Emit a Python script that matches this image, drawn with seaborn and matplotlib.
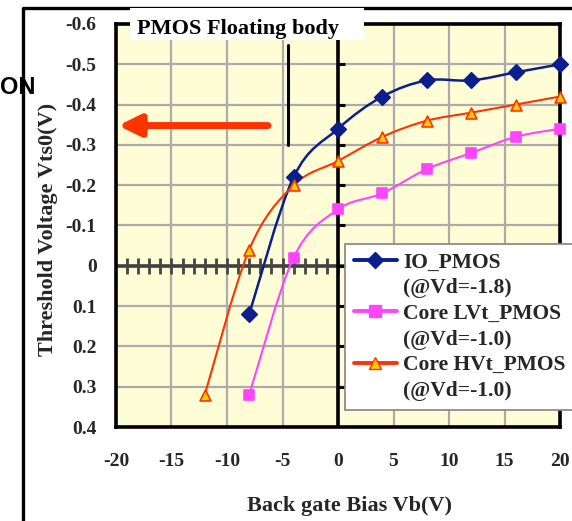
import numpy as np
import matplotlib
matplotlib.use("Agg")
import matplotlib.pyplot as plt
from matplotlib.path import Path
from matplotlib.patches import PathPatch, Rectangle
from matplotlib.lines import Line2D
import seaborn as sns

# Threshold voltage vs. back gate bias, three PMOS flavours
vb_io = [-8, -4, 0, 4, 8, 12, 16, 20]
vts_io = [0.12, -0.22, -0.34, -0.42, -0.46, -0.46, -0.48, -0.50]

vb_lvt = [-8, -4, 0, 4, 8, 12, 16, 20]
vts_lvt = [0.32, -0.02, -0.14, -0.18, -0.24, -0.28, -0.32, -0.34]

vb_hvt = [-12, -8, -4, 0, 4, 8, 12, 16, 20]
vts_hvt = [0.32, -0.04, -0.20, -0.26, -0.32, -0.36, -0.38, -0.40, -0.42]

series_names = ["IO_PMOS", "Core LVt_PMOS", "Core HVt_PMOS"]
series_notes = ["(@Vd=-1.8)", "(@Vd=-1.0)", "(@Vd=-1.0)"]

x_ticks = [-20, -15, -10, -5, 0, 5, 10, 15, 20]
x_ticklabels = ["-20", "-15", "-10", "-5", "0", "5", "10", "15", "20"]
y_ticks = [-0.6, -0.5, -0.4, -0.3, -0.2, -0.1, 0.0, 0.1, 0.2, 0.3, 0.4]
y_ticklabels = ["-0.6", "-0.5", "-0.4", "-0.3", "-0.2", "-0.1", "0",
                "0.1", "0.2", "0.3", "0.4"]

title_text = "PMOS Floating body"
x_label = "Back gate Bias Vb(V)"
y_label = "Threshold Voltage Vts0(V)"

sns.set_style("white")
plt.rcParams["font.family"] = ["Liberation Serif", "DejaVu Serif"]
plt.rcParams["font.weight"] = "bold"

W, H = 572, 521
fig = plt.figure(figsize=(W / 100, H / 100), dpi=100)
fig.patch.set_facecolor("white")
ax = fig.add_axes([116 / W, 94 / H, 444 / W, 403 / H])
ax.set_facecolor("#FFFDD6")

ax.set_xlim(-20, 20)
ax.set_ylim(0.4, -0.6)
ax.set_xticks(x_ticks)
ax.set_xticklabels(x_ticklabels, fontsize=14, fontweight="bold")
ax.set_yticks(y_ticks)
ax.set_yticklabels(y_ticklabels, fontsize=14, fontweight="bold")
ax.tick_params(axis="both", length=0)
ax.tick_params(axis="x", pad=19)
ax.tick_params(axis="y", pad=14)
ax.grid(True, color="#ABABAB", lw=1.6, zorder=0)
ax.set_axisbelow(True)
for s in ax.spines.values():
    s.set_visible(True)
    s.set_color("black")
    s.set_linewidth(2.6)

ax.set_xlabel(x_label, fontsize=16, fontweight="bold")
ax.xaxis.set_label_coords(0.527, -0.17)
ax.set_ylabel(y_label, fontsize=16, fontweight="bold")
ax.yaxis.set_label_coords(-0.13, 0.49)

# Axis lines through the origin with their own tick marks
ax.axhline(0, color="#404040", lw=2.6, zorder=1)
minor_x = [v for v in range(-19, 20)]
ax.plot(minor_x, [0] * len(minor_x), linestyle="", marker="|",
        markersize=11, mew=2.0, color="#454545", zorder=1, clip_on=False)
ax.axvline(0, color="black", lw=2.6, zorder=1)
ax.hlines(y_ticks[1:-1], 0, 0.65, color="black", lw=2.2, zorder=1)


def smooth_path(xs, ys):
    pts = np.column_stack([xs, ys]).astype(float)
    n = len(pts)
    verts = [pts[0]]
    codes = [Path.MOVETO]
    for i in range(n - 1):
        p0 = pts[max(i - 1, 0)]
        p1 = pts[i]
        p2 = pts[i + 1]
        p3 = pts[min(i + 2, n - 1)]
        verts += [p1 + (p2 - p0) / 6, p2 - (p3 - p1) / 6, p2]
        codes += [Path.CURVE4] * 3
    return Path(verts, codes)


styles = [
    dict(x=vb_io, y=vts_io, color="#0A1E8C", lw=1.8, marker="D", s=62,
         fc="#0A1E8C", ec="#0A1E8C"),
    dict(x=vb_lvt, y=vts_lvt, color="#FF44FF", lw=1.5, marker="s", s=58,
         fc="#FF44FF", ec="#FF44FF"),
    dict(x=vb_hvt, y=vts_hvt, color="#FF3300", lw=1.5, marker="^", s=62,
         fc="#FFCC00", ec="#FF3300"),
]

handles = []
for st, name, note in zip(styles, series_names, series_notes):
    ax.add_patch(PathPatch(smooth_path(st["x"], st["y"]), fill=False,
                           edgecolor=st["color"], lw=st["lw"], zorder=3))
    sns.scatterplot(x=st["x"], y=st["y"], marker=st["marker"], s=st["s"],
                    color=st["fc"], edgecolor=st["ec"], linewidth=1.2,
                    zorder=4, ax=ax, clip_on=False)
    handles.append(Line2D([], [], color=st["color"], lw=2.8,
                          marker=st["marker"], markersize=8,
                          markerfacecolor=st["fc"], markeredgecolor=st["ec"],
                          label=name))
    handles.append(Line2D([], [], linestyle="", marker="", label=note))

# Red arrow pointing to the left and the vertical marker line
ax.annotate("", xy=(-19.8, -0.348), xytext=(-6.3, -0.348),
            arrowprops=dict(arrowstyle="-|>,head_length=0.65,head_width=0.32",
                            color="#FF3300", lw=5, mutation_scale=20,
                            shrinkA=0, shrinkB=0), zorder=5)
ax.plot([-4.48, -4.48], [-0.548, -0.300], color="black", lw=2.2, zorder=2)

leg = ax.legend(handles=handles, loc="upper left",
                bbox_to_anchor=(345 / W, 1 - 244 / H),
                bbox_transform=fig.transFigure, borderaxespad=0,
                prop=dict(family="Liberation Serif", weight="bold", size=15.5),
                frameon=True, fancybox=False, framealpha=1,
                handlelength=2.0, handletextpad=0.3, labelspacing=0.26,
                borderpad=0.4)
leg.get_frame().set_edgecolor("#8C8C8C")
leg.get_frame().set_linewidth(1.3)
leg.set_zorder(10)

# Outer frame, title box and side label
fig.text(0 / W, 1 - 94 / H, "ON", fontsize=17, fontweight="bold",
         family="Liberation Sans", color="black", zorder=1)
fig.add_artist(Line2D([23 / W, 23 / W, 1.0], [0, 1 - 8 / H, 1 - 8 / H],
                      transform=fig.transFigure, color="black", lw=2.4,
                      zorder=1.5))
fig.add_artist(Rectangle((130 / W, 1 - 40 / H), 234 / W, 32 / H,
                         transform=fig.transFigure, facecolor="white",
                         edgecolor="none", zorder=2))
fig.text(137 / W, 1 - 34 / H, title_text, fontsize=16, fontweight="bold",
         color="black", zorder=3)

fig.savefig("out.png", dpi=100)
